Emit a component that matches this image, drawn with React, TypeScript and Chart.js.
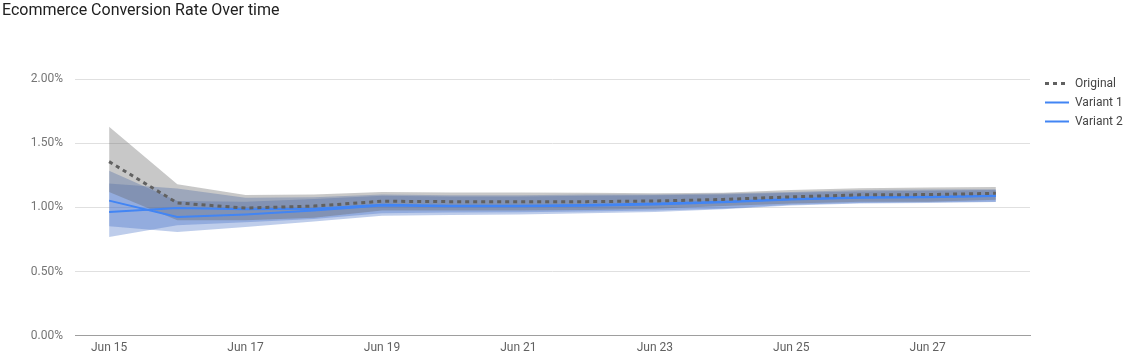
import { useEffect, useRef } from 'react';
import { Chart, registerables } from 'chart.js';

Chart.register(...registerables);

const categories = ['Jun 15', 'Jun 16', 'Jun 17', 'Jun 18', 'Jun 19', 'Jun 20', 'Jun 21', 'Jun 22', 'Jun 23', 'Jun 24', 'Jun 25', 'Jun 26', 'Jun 27', 'Jun 28'];

const originalRate = [1.357, 1.035, 0.995, 1.01, 1.048, 1.045, 1.045, 1.045, 1.05, 1.062, 1.082, 1.098, 1.1, 1.11];
const originalUpper = [1.63, 1.18, 1.096, 1.1, 1.12, 1.116, 1.116, 1.115, 1.11, 1.115, 1.135, 1.15, 1.155, 1.16];
const originalLower = [1.12, 0.9, 0.9, 0.92, 0.975, 0.975, 0.975, 0.98, 0.99, 1.01, 1.03, 1.045, 1.045, 1.06];

const variant1Rate = [1.053, 0.925, 0.945, 0.975, 1.015, 1.008, 1.008, 1.012, 1.022, 1.04, 1.062, 1.076, 1.08, 1.088];
const variant1Upper = [1.286, 1.05, 1.045, 1.065, 1.09, 1.085, 1.085, 1.09, 1.095, 1.1, 1.115, 1.125, 1.13, 1.135];
const variant1Lower = [0.852, 0.808, 0.847, 0.89, 0.935, 0.94, 0.945, 0.955, 0.965, 0.985, 1.015, 1.03, 1.035, 1.042];

const variant2Rate = [0.965, 0.996, 0.986, 0.99, 1.02, 1.012, 1.013, 1.018, 1.03, 1.045, 1.066, 1.08, 1.084, 1.09];
const variant2Upper = [1.187, 1.148, 1.075, 1.08, 1.1, 1.095, 1.095, 1.1, 1.1, 1.108, 1.12, 1.135, 1.14, 1.142];
const variant2Lower = [0.769, 0.86, 0.885, 0.91, 0.955, 0.96, 0.962, 0.968, 0.975, 0.99, 1.02, 1.035, 1.04, 1.045];

const seriesNames = ['Original', 'Variant 1', 'Variant 2'];
const titleText = 'Ecommerce Conversion Rate Over time';

export default function App() {
  const ref = useRef<HTMLCanvasElement>(null);

  useEffect(() => {
    if (!ref.current) return;
    Chart.defaults.font.family = 'Roboto';

    const bandGray = 'rgba(97,97,97,0.35)';
    const bandBlue = 'rgba(69,112,198,0.35)';

    const band = (data: number[], fill: any, color: string) => ({
      label: '',
      data,
      fill,
      backgroundColor: color,
      borderColor: 'transparent',
      borderWidth: 0,
      pointRadius: 0,
      pointHoverRadius: 0,
      tension: 0,
    });

    const legendPlacer = {
      id: 'legendPlacer',
      beforeLayout(chart: any) {
        const lg: any = chart.legend;
        if (lg && !lg.__patched) {
          const fit = lg.fit.bind(lg);
          lg.fit = function () {
            fit();
            this.width = 104;
          };
          lg.__patched = true;
        }
      },
      afterLayout(chart: any) {
        const lg: any = chart.legend;
        if (!lg) return;
        const dx = 1038 - lg.left;
        const dy = 70.5 - lg.top;
        lg.left += dx;
        lg.right += dx;
        lg.top += dy;
        lg.bottom += dy;
      },
    };

    const chart = new Chart(ref.current, {
      type: 'line',
      data: {
        labels: categories,
        datasets: [
          {
            label: seriesNames[0],
            data: originalRate,
            borderColor: '#616161',
            backgroundColor: '#616161',
            borderWidth: 3,
            borderDash: [4, 4],
            pointRadius: 0,
            fill: false,
            tension: 0,
          },
          {
            label: seriesNames[1],
            data: variant1Rate,
            borderColor: '#4285f4',
            backgroundColor: '#4285f4',
            borderWidth: 2,
            pointRadius: 0,
            fill: false,
            tension: 0,
          },
          {
            label: seriesNames[2],
            data: variant2Rate,
            borderColor: '#4285f4',
            backgroundColor: '#4285f4',
            borderWidth: 2,
            pointRadius: 0,
            fill: false,
            tension: 0,
          },
          band(originalUpper, '+1', bandGray),
          band(originalLower, false, bandGray),
          band(variant1Upper, '+1', bandBlue),
          band(variant1Lower, false, bandBlue),
          band(variant2Upper, '+1', bandBlue),
          band(variant2Lower, false, bandBlue),
        ] as any,
      },
      options: {
        animation: false,
        responsive: true,
        maintainAspectRatio: false,
        layout: { padding: { left: 2, right: 0, top: 0, bottom: 3 } },
        plugins: {
          tooltip: { enabled: false },
          title: {
            display: true,
            text: titleText,
            align: 'start',
            color: '#212121',
            font: { family: 'Roboto', size: 16, weight: 'normal' },
            padding: { top: 1, bottom: 59 },
          },
          legend: {
            display: true,
            position: 'right',
            align: 'start',
            fullSize: false,
            labels: {
              usePointStyle: true,
              pointStyle: 'line',
              pointStyleWidth: 24,
              padding: 7,
              color: '#444444',
              font: { family: 'Roboto', size: 12 },
              filter: (item: any) => item.datasetIndex < 3,
              generateLabels: (c: any) => {
                const items = Chart.defaults.plugins.legend.labels.generateLabels(c);
                return items.map((it: any) => {
                  const ds: any = c.data.datasets[it.datasetIndex];
                  return {
                    ...it,
                    lineDash: ds.borderDash || [],
                    lineWidth: ds.borderWidth,
                    strokeStyle: ds.borderColor,
                    fillStyle: ds.borderColor,
                    lineCap: 'butt',
                  };
                });
              },
            },
          },
        },
        scales: {
          x: {
            offset: true,
            grid: { display: false, drawTicks: false },
            border: { display: true, color: '#9e9e9e', width: 1 },
            ticks: {
              autoSkip: false,
              maxRotation: 0,
              minRotation: 0,
              color: '#616161',
              padding: 5,
              font: { family: 'Roboto', size: 12 },
              callback: function (this: any, v: any, i: number) {
                return i % 2 === 0 ? this.getLabelForValue(v) : '';
              },
            },
          },
          y: {
            min: 0,
            max: 2,
            grid: { color: '#e0e0e0', drawTicks: false },
            border: { display: false },
            ticks: {
              stepSize: 0.5,
              padding: 12,
              color: '#757575',
              font: { family: 'Roboto', size: 12 },
              callback: (v: any) => Number(v).toFixed(2) + '%',
            },
            afterFit: (s: any) => {
              s.width = 73;
            },
          },
        },
      } as any,
      plugins: [legendPlacer],
    });

    return () => chart.destroy();
  }, []);

  return (
    <div style={{ position: 'absolute', left: 0, top: 0, width: 1134, height: 363 }}>
      <canvas ref={ref} />
    </div>
  );
}
